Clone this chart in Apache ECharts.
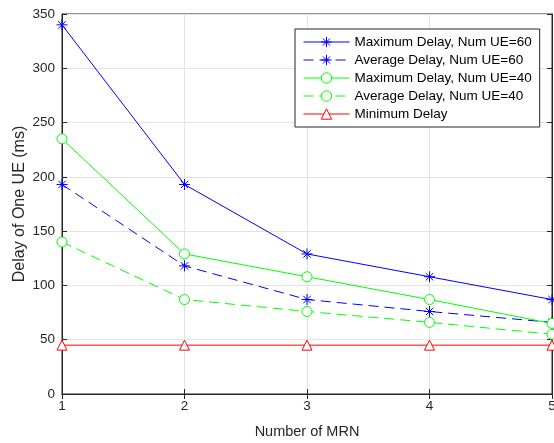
<!DOCTYPE html>
<html>
<head>
<meta charset="utf-8">
<script src="https://cdn.jsdelivr.net/npm/echarts@6/dist/echarts.min.js"></script>
<style>
    html, body { margin: 0; padding: 0; background: #fff; }
    #chart { width: 554px; height: 443px; }
</style>
</head>
<body>
<div id="chart"></div>
<script>
// number of MRN
const mrn = [1, 2, 3, 4, 5];

// delay values (ms)
const maxDelay60 = [340, 193, 129, 108, 87];
const avgDelay60 = [193, 118, 87, 76, 66];
const maxDelay40 = [235, 129, 108, 87, 65];
const avgDelay40 = [140, 87, 76, 66, 55];
const minDelay = [45, 45, 45, 45, 45];

const seriesNames = [
    'Maximum Delay, Num UE=60',
    'Average Delay, Num UE=60',
    'Maximum Delay, Num UE=40',
    'Average Delay, Num UE=40',
    'Minimum Delay'
];

// matlab-like asterisk marker
const asterisk = 'path://M5,0L5,10M0,5L10,5M1.6,1.6L8.4,8.4M1.6,8.4L8.4,1.6';

function pairs(vals) {
    let out = [];
    for (let i = 0; i < mrn.length; i++) {
        out.push([mrn[i], vals[i]]);
    }
    return out;
}

function makeSeries(name, vals, color, dashed, symbol, size) {
    return {
        name: name,
        type: 'line',
        data: pairs(vals),
        symbol: symbol,
        symbolSize: size,
        showAllSymbol: true,
        lineStyle: { color: color, width: 1, type: dashed ? [10, 6] : 'solid' },
        itemStyle: { color: symbol.indexOf('path') === 0 ? color : '#fff', borderColor: color, borderWidth: 1 },
        emphasis: { disabled: true },
        animation: false,
        z: 3
    };
}

const axisColor = '#262626';
const font = 'Liberation Sans, Arial, sans-serif';

const chart = echarts.init(document.getElementById('chart'));

const option = {
    backgroundColor: '#fff',
    animation: false,
    grid: {
        left: 62, right: 2, top: 14, bottom: 49,
        outerBoundsMode: 'none',
        show: true, borderColor: axisColor, borderWidth: 1, backgroundColor: '#fff'
    },
    legend: {
        orient: 'vertical',
        left: 295,
        top: 29,
        padding: [6, 8, 6, 8],
        itemGap: 4,
        itemWidth: 46,
        itemHeight: 13,
        backgroundColor: '#fff',
        borderColor: axisColor,
        borderWidth: 1,
        borderRadius: 0,
        lineStyle: { width: 1 },
        itemStyle: { borderWidth: 1 },
        textStyle: { fontFamily: font, fontSize: 13.5, color: '#000' },
        data: seriesNames
    },
    xAxis: [
        {
            type: 'value', min: 1, max: 5, interval: 1,
            name: 'Number of MRN', nameLocation: 'middle', nameGap: 30,
            nameMoveOverlap: false,
            nameTextStyle: { fontFamily: font, fontSize: 14.5, color: axisColor },
            axisLine: { lineStyle: { color: axisColor } },
            axisTick: { inside: true, length: 5, lineStyle: { color: axisColor } },
            axisLabel: { fontFamily: font, fontSize: 13.5, color: axisColor, margin: 5 },
            splitLine: { show: true, lineStyle: { color: '#e3e3e3' } }
        },
        {
            type: 'value', min: 1, max: 5, interval: 1, position: 'top',
            axisLine: { lineStyle: { color: axisColor } },
            axisTick: { inside: true, length: 5, lineStyle: { color: axisColor } },
            axisLabel: { show: false },
            splitLine: { show: false }
        }
    ],
    yAxis: [
        {
            type: 'value', min: 0, max: 350, interval: 50,
            name: 'Delay of One UE (ms)', nameLocation: 'middle', nameGap: 34,
            nameMoveOverlap: false,
            nameTextStyle: { fontFamily: font, fontSize: 16, color: axisColor },
            axisLine: { show: true, lineStyle: { color: axisColor } },
            axisTick: { show: true, inside: true, length: 5, lineStyle: { color: axisColor } },
            axisLabel: { fontFamily: font, fontSize: 13.5, color: axisColor, margin: 7 },
            splitLine: { show: true, lineStyle: { color: '#e3e3e3' } }
        },
        {
            type: 'value', min: 0, max: 350, interval: 50, position: 'right',
            axisLine: { show: true, lineStyle: { color: axisColor } },
            axisTick: { show: true, inside: true, length: 5, lineStyle: { color: axisColor } },
            axisLabel: { show: false },
            splitLine: { show: false }
        }
    ],
    series: [
        makeSeries(seriesNames[0], maxDelay60, '#0000ff', false, asterisk, 11),
        makeSeries(seriesNames[1], avgDelay60, '#0000ff', true, asterisk, 11),
        makeSeries(seriesNames[2], maxDelay40, '#00ff00', false, 'circle', 10),
        makeSeries(seriesNames[3], avgDelay40, '#00ff00', true, 'circle', 10),
        makeSeries(seriesNames[4], minDelay, '#ff0000', false, 'triangle', 10)
    ]
};

option && chart.setOption(option);
</script>
</body>
</html>
